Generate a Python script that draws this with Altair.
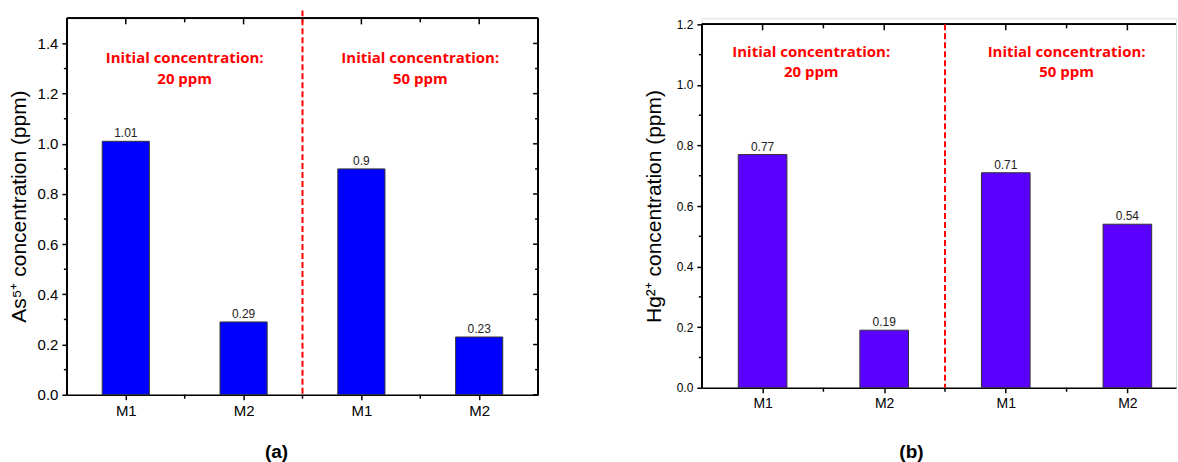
import altair as alt
import pandas as pd

# ---------------- data ----------------
groups = ["M1", "M2", "M1", "M2"]
positions = [1, 2, 3, 4]
as_values = [1.01, 0.29, 0.9, 0.23]
hg_values = [0.77, 0.19, 0.71, 0.54]
annot_line1 = ["Initial concentration:", "Initial concentration:"]
annot_line2 = ["20 ppm", "50 ppm"]
divider = [2.5]
x_major = [1, 2, 3, 4]
x_minor = [1.5, 2.5, 3.5]
a_major = [0.0, 0.2, 0.4, 0.6, 0.8, 1.0, 1.2, 1.4]
a_minor = [0.1, 0.3, 0.5, 0.7, 0.9, 1.1, 1.3]
b_major = [0.0, 0.2, 0.4, 0.6, 0.8, 1.0, 1.2]
b_minor = [0.1, 0.3, 0.5, 0.7, 0.9, 1.1]

FONT = "Liberation Sans"
ANN_FONT = "Open Sans"


def panel(values, color, ytitle, ydom_top, yframe_top, major, minor,
          width, height, xdom, annot_x, annot_y1, annot_y2, caption,
          tick_fs, xlab_fs, val_fs, title_fs, right_border, red_top):
    df = pd.DataFrame({"pos": positions, "group": groups, "value": values,
                       "label": [str(v) for v in values]})
    xs = alt.Scale(domain=xdom, nice=False, zero=False, padding=0)
    ys = alt.Scale(domain=[0, ydom_top], nice=False, zero=True, padding=0)
    lab_js = "[" + ",".join("'%s'" % g for g in groups) + "][datum.value-1]"

    bars = alt.Chart(df).transform_calculate(
        x0="datum.pos-0.2", x1="datum.pos+0.2"
    ).mark_bar(color=color, stroke="#333333", strokeWidth=1).encode(
        x=alt.X("x0:Q", scale=xs, axis=alt.Axis(
            values=x_major, labelExpr=lab_js, tickSize=5, tickColor="black",
            tickWidth=1.5, domainColor="black", domainWidth=1.5, grid=False,
            labelFont=FONT, labelFontSize=xlab_fs, labelColor="black",
            labelPadding=4, title=None)),
        x2="x1:Q",
        y=alt.Y("value:Q", scale=ys, axis=alt.Axis(
            values=major, format=".1f", tickSize=5, tickColor="black",
            tickWidth=1.5, domain=False, grid=False, labelFont=FONT,
            labelFontSize=tick_fs, labelColor="black", labelPadding=4,
            title=ytitle, titleFont=FONT, titleFontSize=title_fs,
            titleFontWeight="normal", titleColor="black", titleAngle=-90,
            titleX=-47, titleY=188, titleAlign="center",
            titleBaseline="middle")),
        y2=alt.Y2(datum=0),
    )

    vals = alt.Chart(df).mark_text(baseline="bottom", dy=-1, font=FONT,
                                   fontSize=val_fs, color="#222222").encode(
        x=alt.X("pos:Q", scale=xs), y=alt.Y("value:Q", scale=ys), text="label:N")

    frame = [
        alt.Chart(df).mark_rule(color="black", strokeWidth=1.5).encode(
            x=alt.value(0), y=alt.Y(datum=0, scale=ys), y2=alt.Y2(datum=yframe_top)),
        alt.Chart(df).mark_rule(color="black", strokeWidth=1.5).encode(
            y=alt.Y(datum=yframe_top, scale=ys), x=alt.value(0), x2=alt.value(width)),
    ]
    if right_border:
        frame.append(alt.Chart(df).mark_rule(color="black", strokeWidth=1.5).encode(
            x=alt.value(width), y=alt.Y(datum=0, scale=ys), y2=alt.Y2(datum=yframe_top)))

    tmaj = pd.DataFrame({"v": x_major})
    tmin = pd.DataFrame({"v": x_minor})
    ymaj = pd.DataFrame({"v": major})
    ymin = pd.DataFrame({"v": minor})
    ticks = [
        alt.Chart(tmaj).mark_rule(color="black", strokeWidth=1.5, y2Offset=6).encode(
            x=alt.X("v:Q", scale=xs), y=alt.Y(datum=yframe_top, scale=ys),
            y2=alt.Y2(datum=yframe_top)),
        alt.Chart(tmin).mark_rule(color="black", strokeWidth=1.5, y2Offset=4).encode(
            x=alt.X("v:Q", scale=xs), y=alt.Y(datum=yframe_top, scale=ys),
            y2=alt.Y2(datum=yframe_top)),
        alt.Chart(tmin).mark_rule(color="black", strokeWidth=1.5, y2Offset=4).encode(
            x=alt.X("v:Q", scale=xs), y=alt.Y(datum=0, scale=ys), y2=alt.Y2(datum=0)),
        alt.Chart(ymin).mark_rule(color="black", strokeWidth=1.5).encode(
            x=alt.value(-3), x2=alt.value(0), y=alt.Y("v:Q", scale=ys)),
    ]
    if right_border:
        ticks += [
            alt.Chart(ymaj).mark_rule(color="black", strokeWidth=1.5).encode(
                x=alt.value(width - 5), x2=alt.value(width), y=alt.Y("v:Q", scale=ys)),
            alt.Chart(ymin).mark_rule(color="black", strokeWidth=1.5).encode(
                x=alt.value(width - 3), x2=alt.value(width), y=alt.Y("v:Q", scale=ys)),
        ]

    red = alt.Chart(pd.DataFrame({"v": divider})).mark_rule(
        color="#FF0000", strokeWidth=2, strokeDash=[6, 3]).encode(
        x=alt.X("v:Q", scale=xs), y=alt.value(red_top), y2=alt.value(height))

    adf = pd.DataFrame({"x": annot_x, "t1": annot_line1, "t2": annot_line2,
                        "y1": [annot_y1] * 2, "y2": [annot_y2] * 2})
    ann1 = alt.Chart(adf).mark_text(font=ANN_FONT, fontSize=15, fontWeight="bold",
                                    color="#FF0000", baseline="middle").encode(
        x=alt.X("x:Q", scale=xs), y=alt.Y("y1:Q", scale=ys), text="t1:N")
    ann2 = alt.Chart(adf).mark_text(font=ANN_FONT, fontSize=15, fontWeight="bold",
                                    color="#FF0000", baseline="middle").encode(
        x=alt.X("x:Q", scale=xs), y=alt.Y("y2:Q", scale=ys), text="t2:N")

    cap = alt.Chart(pd.DataFrame({"t": [caption]})).mark_text(
        font=FONT, fontSize=19, fontWeight="bold", color="black",
        baseline="middle").encode(
        x=alt.value(210), y=alt.value(434), text="t:N")

    return alt.layer(bars, vals, *frame, *ticks, red, ann1, ann2, cap).properties(
        width=width, height=height)


pa = panel(as_values, "#0000FF", "As⁵⁺ concentration (ppm)", 1.5, 1.5,
           a_major, a_minor, 472, 377, [0.5, 4.5], [1.5, 3.5], 1.34, 1.26,
           "(a)", 15, 15, 12, 21, True, -8)
pb = panel(hg_values, "#5A00FF", "Hg²⁺ concentration (ppm)", 1.2198, 1.2,
           b_major, b_minor, 475, 370, [0.5, 4.4], [1.4, 3.5], 1.108, 1.042,
           "(b)", 12, 14, 12, 21, False, 6)

chart = alt.hconcat(pa, pb, spacing=164, bounds="flush").properties(
    padding={"left": 8, "top": 8, "right": 0, "bottom": 0}
).configure_view(stroke=None).configure(background="white")

chart.save("out.html", embed_options={"renderer": "svg", "actions": False})
